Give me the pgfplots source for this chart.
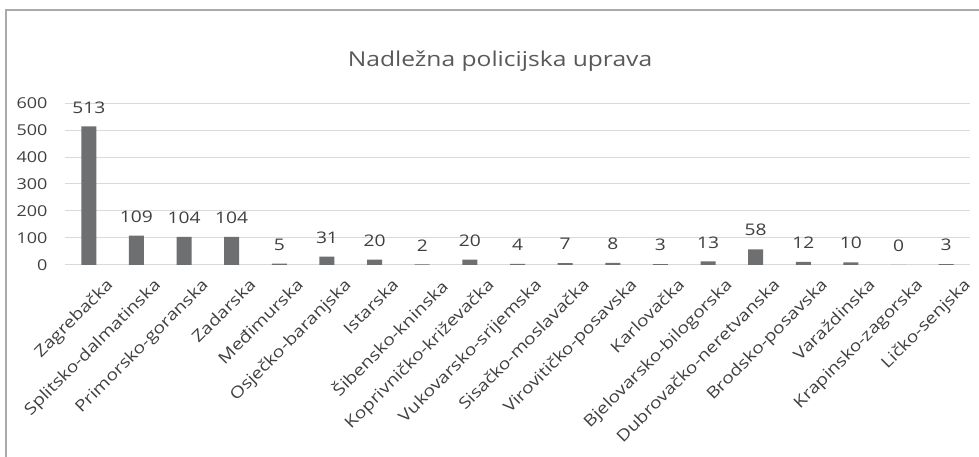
\documentclass[border=0pt]{standalone}
\usepackage{fontspec}
\setmainfont{Open Sans}
\newfontfamily\wide[FakeStretch=1.2]{Open Sans}
\usepackage{pgfplots}
\pgfplotsset{compat=1.18}
\definecolor{barc}{RGB}{110,111,113}
\definecolor{gridc}{RGB}{217,217,217}
\definecolor{txt}{RGB}{89,89,89}
\definecolor{lbl}{RGB}{64,64,64}
\definecolor{framec}{RGB}{170,170,170}
\begin{document}
\begin{tikzpicture}[x=1pt,y=1pt]
\path[use as bounding box] (0pt,0pt) rectangle (979pt,457pt);
\draw[color=framec, line width=1.2pt] (6pt,0pt) -- (6pt,447pt) -- (979pt,447pt);
\node[font=\wide\fontsize{20.5}{24}\selectfont, text=txt] at (500pt,396pt) {Nadležna policijska uprava};
\begin{axis}[
  at={(65pt,192pt)}, anchor=south west,
  scale only axis, width=905pt, height=162pt,
  xmin=-0.5, xmax=18.5, ymin=0, ymax=600,
  ytick={0,100,200,300,400,500,600},
  xtick=data,
  xticklabels={Zagrebačka,Splitsko-dalmatinska,Primorsko-goranska,Zadarska,Međimurska,Osječko-baranjska,Istarska,Šibensko-kninska,Koprivničko-križevačka,Vukovarsko-srijemska,Sisačko-moslavačka,Virovitičko-posavska,Karlovačka,Bjelovarsko-bilogorska,Dubrovačko-neretvanska,Brodsko-posavska,Varaždinska,Krapinsko-zagorska,Ličko-senjska},
  /pgf/number format/assume math mode=true,
  axis x line*=bottom, axis y line*=left,
  x axis line style={draw=gridc, line width=1pt, -},
  y axis line style={draw=none},
  major tick length=0pt,
  ymajorgrids, grid style={draw=gridc, line width=1pt},
  yticklabel style={font=\wide\fontsize{15}{18}\selectfont, text=lbl, anchor=east, xshift=-14pt},
  xticklabel style={font=\wide\fontsize{16}{19}\selectfont, text=lbl, rotate=45, anchor=north east, inner sep=0pt, xshift=3pt, yshift=-20pt},
  ytick style={draw=none}, xtick style={draw=none},
  nodes near coords,
  every node near coord/.append style={font=\wide\fontsize{16}{19}\selectfont, text=lbl, anchor=south, inner sep=0pt, yshift=13pt},
  clip=false,
]
\addplot[ybar, bar width=15pt, fill=barc, draw=none] coordinates {
(0,513) (1,109) (2,104) (3,104) (4,5) (5,31) (6,20) (7,2) (8,20) (9,4) (10,7) (11,8) (12,3) (13,13) (14,58) (15,12) (16,10) (17,0) (18,3)
};
\end{axis}
\end{tikzpicture}
\end{document}
